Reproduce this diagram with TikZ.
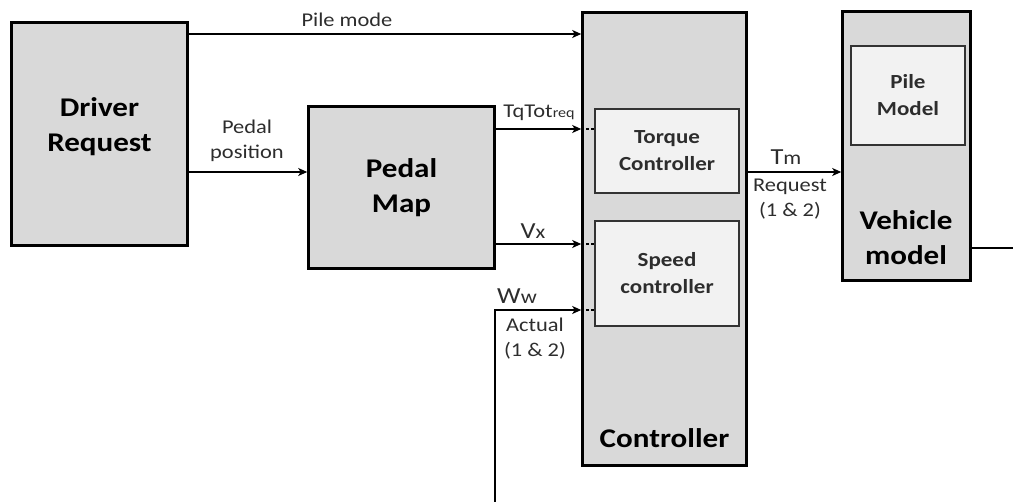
\documentclass[tikz,border=0pt]{standalone}
\usepackage{fontspec}
\setmainfont{Carlito}[FakeStretch=1.15]
\usepackage{tikz}
\usetikzlibrary{arrows.meta,positioning}
\definecolor{boxgray}{RGB}{217,217,217}
\definecolor{innergray}{RGB}{242,242,242}
\definecolor{txtgray}{RGB}{45,45,45}
\newcommand{\lblsize}{\fontsize{19.5}{25}\selectfont}
\newcommand{\boxsize}{\fontsize{27}{35}\bfseries\selectfont}
\newcommand{\innersize}{\fontsize{20}{27}\bfseries\selectfont}

\begin{document}
\begin{tikzpicture}[x=1pt,y=-1pt,
    outerbox/.style={draw=black,line width=2.6pt,fill=boxgray,inner sep=0pt,align=center,font=\boxsize},
    innerbox/.style={draw=black!80,line width=1.8pt,fill=innergray,inner sep=0pt,align=center,font=\innersize,text=txtgray},
    sig/.style={line width=2.4pt,-{Stealth[length=9pt,width=8pt,inset=2.5pt]}},
    dotsig/.style={line width=2.4pt,dash pattern=on 2.5pt off 2.5pt},
    lbl/.style={font=\lblsize,text=txtgray,align=center,inner sep=0pt}]
    \useasboundingbox (0,0) rectangle (1013,502);
    % blocks
    \node[outerbox,minimum width=176pt,minimum height=223pt] (drv) at (99.5,134) {};
    \node[font=\boxsize,inner sep=0pt,align=center] (drvtxt) at (99.5,127) {Driver\\Request};
    \node[outerbox,minimum width=186pt,minimum height=162pt] (pm) at (401.5,187.5) {Pedal\\Map};
    \node[outerbox,minimum width=164pt,minimum height=453pt] (ctrl) at (664.5,239) {};
    \node[font=\boxsize,inner sep=0pt] (ctrltxt) at (664.5,438) {Controller};
    \node[innerbox,minimum width=144pt,minimum height=84pt] (trq) at (667,151) {Torque\\Controller};
    \node[innerbox,minimum width=144pt,minimum height=105pt] (spd) at (667,273.5) {Speed\\controller};
    \node[outerbox,minimum width=128pt,minimum height=269pt] (veh) at (906.5,146) {};
    \node[font=\boxsize,inner sep=0pt,align=center] (vehtxt) at (906,238) {Vehicle\\model};
    \node[innerbox,minimum width=114pt,minimum height=99pt] (pile) at (908,95.5) {Pile\\Model};
    % free ends
    \coordinate (fb) at (495,502);
    \coordinate (vout) at (1013,248);
    % signals
    \draw[sig] (drv.east |- 0,34) -- (ctrl.west |- 0,34);
    \node[lbl] (lpile) at (347,20) {Pile mode};
    \draw[sig] (drv.east |- 0,172) -- (pm.west |- 0,172);
    \node[lbl] (lpedal) at (247,141) {Pedal\\position};
    \draw[sig] (pm.east |- 0,129) -- (ctrl.west |- 0,129);
    \draw[dotsig] (ctrl.west |- 0,129) -- (trq.west |- 0,129);
    \node[lbl] (ltq) at (539,113) {TqTot{\fontsize{14}{14}\selectfont req}};
    \draw[sig] (pm.east |- 0,244) -- (ctrl.west |- 0,244);
    \draw[dotsig] (ctrl.west |- 0,244) -- (spd.west |- 0,244);
    \node[lbl] (lvx) at (533,231) {{\fontsize{23}{23}\selectfont V}x};
    \draw[sig] (fb) -- (fb |- 0,310) -- (ctrl.west |- 0,310);
    \draw[dotsig] (ctrl.west |- 0,310) -- (spd.west |- 0,310);
    \node[lbl] (lww) at (517,296) {{\fontsize{23}{23}\selectfont W}w};
    \node[lbl] (lact) at (535,339) {Actual\\(1 \& 2)};
    \draw[sig] (ctrl.east |- 0,172) -- (veh.west |- 0,172);
    \node[lbl] (ltm) at (786,157) {{\fontsize{23}{23}\selectfont T}m};
    \node[lbl] (lreq) at (790,199) {Request\\(1 \& 2)};
    \draw[line width=2.4pt] (veh.east |- vout) -- (vout);
\end{tikzpicture}
\end{document}
